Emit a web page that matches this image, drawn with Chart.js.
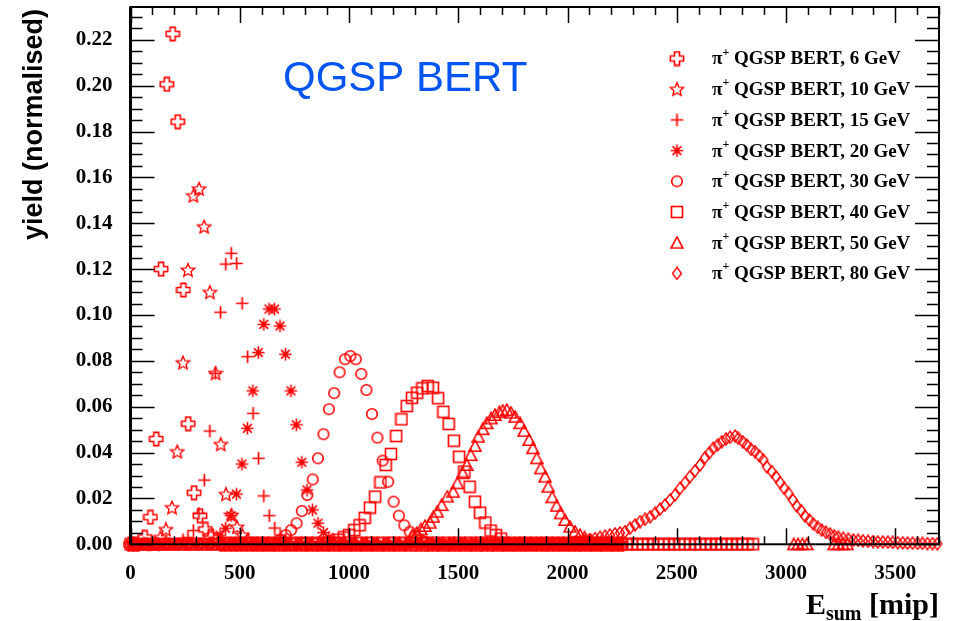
<!DOCTYPE html>
<html>
<head>
<meta charset="utf-8">
<script src="https://cdn.jsdelivr.net/npm/chart.js@4.4.1/dist/chart.umd.min.js"></script>
<style>
  html, body { margin: 0; padding: 0; background: #fff; }
  canvas { display: block; }
</style>
</head>
<body>
<canvas id="c" width="956" height="621"></canvas>
<script>
// beam energies (GeV), one histogram each
const energies = [6, 10, 15, 20, 30, 40, 50, 80];

// tick labels
const xTicks = [0, 500, 1000, 1500, 2000, 2500, 3000, 3500];
const yTicks = [0, 0.02, 0.04, 0.06, 0.08, 0.10, 0.12, 0.14, 0.16, 0.18, 0.20, 0.22];

// filled bins: E_sum [mip] and normalised yield
const x6 = [65, 91, 118, 140, 166, 193, 216, 242, 264, 291, 318, 343, 368, 393];
const y6 = [0.003, 0.0118, 0.0459, 0.120, 0.2006, 0.2226, 0.1843, 0.1109, 0.0526, 0.0225, 0.0125, 0.0065, 0.0035, 0.002];

const x10 = [137, 162, 190, 214, 240, 263, 288, 314, 337, 363, 389, 413, 437, 462, 487, 512, 537];
const y10 = [0.003, 0.0065, 0.016, 0.0404, 0.0792, 0.1196, 0.152, 0.155, 0.1385, 0.1099, 0.0746, 0.0436, 0.0218, 0.0128, 0.0075, 0.004, 0.002];

const x15 = [240, 263, 288, 313, 338, 363, 388, 412, 436, 461, 486, 511, 536, 561, 586, 610, 635, 660, 685, 710];
const y15 = [0.002, 0.003, 0.006, 0.0135, 0.028, 0.0494, 0.0746, 0.1012, 0.1222, 0.1269, 0.1225, 0.1051, 0.0818, 0.0571, 0.0375, 0.0211, 0.0125, 0.0071, 0.004, 0.002];

const x20 = [410, 435, 460, 485, 510, 535, 560, 585, 610, 634, 659, 684, 709, 734, 759, 784, 808, 833, 858, 883, 908, 932];
const y20 = [0.004, 0.007, 0.0125, 0.0219, 0.035, 0.0506, 0.0669, 0.0836, 0.0959, 0.1026, 0.1026, 0.0952, 0.0829, 0.0669, 0.0521, 0.0358, 0.0237, 0.015, 0.0092, 0.0051, 0.003, 0.0015];

const x30 = [686, 710, 735, 760, 784, 809, 834, 858, 883, 908, 932, 957, 982, 1006, 1031, 1056, 1080, 1105, 1130, 1154, 1179, 1204, 1228, 1253, 1278, 1302, 1327, 1352];
const y30 = [0.002, 0.004, 0.0062, 0.0092, 0.0145, 0.0215, 0.0283, 0.0375, 0.048, 0.0589, 0.0659, 0.075, 0.0807, 0.0821, 0.0807, 0.0743, 0.0673, 0.0568, 0.0465, 0.0365, 0.0273, 0.0186, 0.0125, 0.0083, 0.0055, 0.0035, 0.002, 0.001];

const x40 = [952, 976, 1000, 1024, 1048, 1072, 1096, 1120, 1144, 1168, 1192, 1216, 1240, 1264, 1288, 1312, 1336, 1360, 1384, 1408, 1432, 1456, 1480, 1504, 1528, 1552, 1576, 1600, 1624, 1648, 1672, 1696];
const y40 = [0.002, 0.003, 0.004, 0.0062, 0.0083, 0.0115, 0.016, 0.0208, 0.027, 0.0346, 0.0394, 0.0472, 0.0545, 0.0603, 0.0639, 0.0661, 0.068, 0.069, 0.0683, 0.0637, 0.0578, 0.0525, 0.0452, 0.0382, 0.0317, 0.0251, 0.0186, 0.0138, 0.0095, 0.006, 0.004, 0.0025];

const x50 = [1290, 1310, 1329, 1348, 1371, 1386, 1404, 1424, 1450, 1477, 1496, 1520, 1539, 1557, 1577, 1592, 1612, 1630, 1650, 1668, 1688, 1703, 1722, 1741, 1760, 1783, 1801, 1824, 1841, 1859, 1877, 1897, 1912, 1930, 1950, 1968, 1988, 2011, 2034, 2057, 2078, 2100];
const y50 = [0.004, 0.005, 0.0065, 0.008, 0.0094, 0.012, 0.0142, 0.0171, 0.0208, 0.0229, 0.0266, 0.031, 0.0346, 0.0389, 0.0429, 0.0469, 0.0502, 0.0528, 0.0549, 0.0564, 0.0576, 0.0583, 0.0586, 0.0574, 0.0556, 0.0528, 0.0495, 0.0455, 0.0419, 0.0375, 0.0331, 0.0295, 0.0251, 0.0205, 0.0168, 0.0135, 0.0106, 0.0077, 0.0055, 0.0041, 0.003, 0.002];

const x80 = [2036, 2058, 2081, 2104, 2126, 2149, 2172, 2194, 2217, 2240, 2263, 2286, 2309, 2332, 2355, 2378, 2400, 2423, 2446, 2469, 2492, 2515, 2538, 2560, 2583, 2606, 2629, 2649, 2667, 2687, 2706, 2725, 2744, 2767, 2782, 2802, 2820, 2840, 2858, 2878, 2896, 2912, 2935, 2954, 2973, 2992, 3011, 3031, 3049, 3069, 3087, 3107, 3125, 3145, 3163, 3183, 3202, 3221, 3239, 3262, 3285, 3308, 3330, 3352, 3375, 3398, 3420, 3443, 3466, 3488, 3511, 3534, 3556, 3579, 3602, 3624, 3647, 3670, 3692];
const y80 = [0.0008, 0.001, 0.0015, 0.002, 0.0025, 0.003, 0.0035, 0.004, 0.0045, 0.005, 0.0055, 0.007, 0.0084, 0.0099, 0.0109, 0.012, 0.0135, 0.0153, 0.0171, 0.0193, 0.0215, 0.0244, 0.0269, 0.0295, 0.032, 0.0346, 0.0378, 0.0399, 0.0419, 0.0433, 0.0447, 0.0459, 0.0467, 0.0472, 0.0462, 0.0447, 0.0433, 0.0414, 0.0404, 0.0385, 0.0368, 0.0338, 0.0317, 0.0295, 0.0269, 0.0244, 0.0222, 0.0193, 0.0167, 0.0147, 0.0123, 0.0106, 0.0089, 0.0074, 0.0062, 0.0052, 0.0044, 0.0036, 0.0031, 0.0026, 0.0022, 0.0019, 0.0017, 0.0015, 0.0013, 0.0012, 0.001, 0.001, 0.0009, 0.0008, 0.0007, 0.0006, 0.0005, 0.0005, 0.0004, 0.0004, 0.0003, 0.0003, 0.0002];

// empty bins (yield 0) that make the band along the x axis
const z6 = [0, 25, 420, 445, 470, 495, 520, 545, 570, 595, 620, 645, 670, 695, 720, 745, 770, 795, 820, 845, 870, 895, 920, 945, 970, 995,
  1020, 1045, 1070, 1095, 1120, 1145, 1170, 1195, 1220, 1245, 1270, 1295, 1320, 1345, 1370, 1395, 1420, 1445, 1470, 1495, 1520, 1545, 1570, 1595,
  1620, 1645, 1670, 1695, 1720, 1745, 1770, 1795, 1820, 1845, 1870, 1895, 1920, 1945, 1970, 1995, 2020, 2045, 2070, 2095, 2120, 2145, 2170, 2195, 2220, 2245];
const z10 = [10, 60, 110, 580, 630, 680, 730, 780, 830, 880, 930, 980, 1030, 1080, 1130, 1180, 1230, 1280, 1330, 1380, 1430, 1480, 1530, 1580, 1630, 1680, 1730, 1780, 1830, 1880, 1930, 1980, 2030, 2080, 2130, 2180, 2230];
const z15 = [35, 85, 135, 185, 760, 810, 860, 910, 960, 1010, 1060, 1110, 1160, 1210, 1260, 1310, 1360, 1410, 1460, 1510, 1560, 1610, 1660, 1710, 1760, 1810, 1860, 1910, 1960, 2010, 2060, 2110, 2160, 2210];
const z20 = [0, 50, 100, 150, 200, 250, 300, 350, 975, 1025, 1075, 1125, 1175, 1225, 1275, 1325, 1375, 1425, 1475, 1525, 1575, 1625, 1675, 1725, 1775, 1825, 1875, 1925, 1975, 2025, 2075, 2125, 2175, 2225];
const z30 = [12, 37, 62, 87, 112, 137, 162, 187, 212, 237, 262, 287, 312, 337, 362, 387, 412, 437, 462, 487, 512, 537, 562, 587, 612, 637, 662,
  1380, 1405, 1430, 1455, 1480, 1505, 1530, 1555, 1580, 1605, 1630, 1655, 1680, 1705, 1730, 1755, 1780, 1805, 1830, 1855, 1880, 1905, 1930, 1955,
  1980, 2005, 2030, 2055, 2080, 2105, 2130, 2155, 2180, 2205, 2230];
const z40 = [0, 50, 100, 150, 200, 250, 300, 350, 400, 450, 500, 550, 600, 650, 700, 750, 800, 850, 900,
  1720, 1744, 1768, 1792, 1816, 1840, 1864, 1888, 1912, 1936, 1960, 1984, 2008, 2032, 2056, 2080, 2104, 2128, 2152, 2176, 2200, 2224, 2248, 2272, 2296, 2320, 2344, 2368, 2392, 2416, 2440, 2464, 2488, 2512, 2536, 2560, 2584, 2608, 2632, 2656, 2680, 2704, 2728, 2752, 2776, 2800, 2824, 2848];
const z50 = [25, 75, 125, 175, 225, 275, 325, 375, 425, 475, 525, 575, 625, 675, 725, 775, 825, 875, 925, 975, 1025, 1075, 1125, 1175, 1225,
  2125, 2150, 2175, 2200, 2225, 2250, 3035, 3055, 3075, 3095, 3220, 3240, 3260, 3280];
const z80 = [15, 65, 115, 165, 215, 265, 315, 365, 415, 465, 515, 565, 615, 665, 715, 765, 815, 865, 915, 965, 1015, 1065, 1115, 1165, 1215, 1265, 1315, 1365, 1415, 1465, 1515, 1565, 1615, 1665, 1715, 1765, 1815, 1865, 1915, 1965, 2015];

const RED = 'rgb(255,0,0)';

// ROOT-like open markers
function mark(w, h, draw) {
  const c = document.createElement('canvas');
  c.width = w; c.height = h;
  const g = c.getContext('2d');
  g.strokeStyle = RED; g.fillStyle = RED; g.lineWidth = 1.6;
  draw(g);
  return c;
}
const openCross = mark(16, 16, g => {
  const c = 8, a = 2.5, L = 6.6;
  const p = [[-a,-L],[a,-L],[a,-a],[L,-a],[L,a],[a,a],[a,L],[-a,L],[-a,a],[-L,a],[-L,-a],[-a,-a]];
  g.beginPath();
  p.forEach(([u, v], k) => k ? g.lineTo(c + u, c + v) : g.moveTo(c + u, c + v));
  g.closePath(); g.stroke();
});
const openStar = mark(16, 16, g => {
  g.lineWidth = 1.4;
  g.beginPath();
  for (let k = 0; k < 10; k++) {
    const r = k % 2 ? 3.2 : 7.0, t = -Math.PI / 2 + k * Math.PI / 5;
    const px = 8 + r * Math.cos(t), py = 8.5 + r * Math.sin(t);
    k ? g.lineTo(px, py) : g.moveTo(px, py);
  }
  g.closePath(); g.stroke();
});
const thinCross = mark(15, 15, g => {
  g.lineWidth = 1.7;
  g.beginPath(); g.moveTo(7.5, 1.3); g.lineTo(7.5, 13.7); g.moveTo(1.3, 7.5); g.lineTo(13.7, 7.5); g.stroke();
});
const aster = mark(15, 15, g => {
  g.lineWidth = 1.6;
  g.beginPath();
  for (let k = 0; k < 4; k++) {
    const t = k * Math.PI / 4;
    g.moveTo(7.5 - 6.2 * Math.cos(t), 7.5 - 6.2 * Math.sin(t));
    g.lineTo(7.5 + 6.2 * Math.cos(t), 7.5 + 6.2 * Math.sin(t));
  }
  g.stroke();
  g.beginPath(); g.arc(7.5, 7.5, 2.2, 0, 2 * Math.PI); g.fill();
});
const openCircle = mark(14, 14, g => { g.beginPath(); g.arc(7, 7, 5.3, 0, 2 * Math.PI); g.stroke(); });
const openSquare = mark(14, 14, g => { g.strokeRect(1.5, 1.5, 11, 11); });
const openTri = mark(14, 14, g => {
  g.beginPath(); g.moveTo(7, 1.2); g.lineTo(13, 12.3); g.lineTo(1, 12.3); g.closePath(); g.stroke();
});
const openDiamond = mark(12, 14, g => {
  g.lineWidth = 1.4;
  g.beginPath(); g.moveTo(6, 1); g.lineTo(10.5, 7); g.lineTo(6, 13); g.lineTo(1.5, 7); g.closePath(); g.stroke();
});

const series = [
  [x6, y6, z6, openCross],
  [x10, y10, z10, openStar],
  [x15, y15, z15, thinCross],
  [x20, y20, z20, aster],
  [x30, y30, z30, openCircle],
  [x40, y40, z40, openSquare],
  [x50, y50, z50, openTri],
  [x80, y80, z80, openDiamond]
];

const datasets = series.map(([xs, ys, zs, style], i) => ({
  label: '\u03c0+ QGSP BERT, ' + energies[i] + ' GeV',
  data: xs.map((x, k) => ({ x, y: ys[k] })).concat(zs.map(x => ({ x, y: 0 }))),
  showLine: false,
  pointStyle: style,
  pointRadius: 6,
  borderColor: RED,
  backgroundColor: 'rgba(0,0,0,0)',
  clip: false
}));

const serif = '"Liberation Serif", "Times New Roman", serif';
const sans = '"Liberation Sans", Arial, sans-serif';

// frame with inward ticks on all four sides
const frame = {
  id: 'frame',
  afterDatasetsDraw(chart) {
    const { ctx, chartArea: a, scales: { x, y } } = chart;
    ctx.save();
    ctx.strokeStyle = '#000';
    ctx.lineWidth = 1.5;
    ctx.beginPath();
    for (let v = 0; v <= 3700; v += 100) {
      const px = Math.round(x.getPixelForValue(v)) + 0.5;
      const len = v % 500 === 0 ? 16 : 8;
      ctx.moveTo(px, a.bottom); ctx.lineTo(px, a.bottom - len);
      ctx.moveTo(px, a.top); ctx.lineTo(px, a.top + len);
    }
    for (let k = 0; k <= 46; k++) {
      const py = Math.round(y.getPixelForValue(k * 0.005)) + 0.5;
      if (py < a.top) break;
      const len = k % 4 === 0 ? 24 : 12;
      ctx.moveTo(a.left, py); ctx.lineTo(a.left + len, py);
      ctx.moveTo(a.right, py); ctx.lineTo(a.right - len, py);
    }
    ctx.stroke();
    ctx.lineWidth = 2;
    ctx.strokeRect(a.left, a.top, a.right - a.left, a.bottom - a.top);
    ctx.beginPath(); ctx.lineWidth = 3;
    ctx.moveTo(a.left, a.top); ctx.lineTo(a.left, a.bottom); ctx.stroke();
    ctx.restore();
  }
};

// legend in the upper right corner
const legendBox = {
  id: 'legendBox',
  afterDatasetsDraw(chart) {
    const ctx = chart.ctx;
    ctx.save();
    ctx.fillStyle = '#000';
    ctx.textBaseline = 'middle';
    chart.data.datasets.forEach((ds, i) => {
      const cy = 58.5 + i * 30.7;
      const st = ds.pointStyle;
      ctx.drawImage(st, 677 - st.width / 2, cy - st.height / 2);
      let tx = 712;
      ctx.font = 'bold 19px ' + serif;
      ctx.fillText('\u03c0', tx, cy + 1);
      tx += ctx.measureText('\u03c0').width;
      ctx.font = 'bold 12px ' + serif;
      ctx.fillText('+', tx, cy - 6);
      tx += ctx.measureText('+').width;
      ctx.font = 'bold 19px ' + serif;
      ctx.fillText(' QGSP BERT, ' + energies[i] + ' GeV', tx, cy + 1);
    });
    ctx.restore();
  }
};

// axis titles and the model name
const texts = {
  id: 'texts',
  afterDatasetsDraw(chart) {
    const ctx = chart.ctx;
    ctx.save();
    ctx.fillStyle = 'rgb(0,85,240)';
    ctx.font = '42px ' + sans;
    ctx.textBaseline = 'alphabetic';
    ctx.textAlign = 'left';
    ctx.fillText('QGSP BERT', 283, 91);

    ctx.fillStyle = '#000';
    ctx.save();
    ctx.translate(42, 9);
    ctx.rotate(-Math.PI / 2);
    ctx.textAlign = 'right';
    ctx.font = 'bold 27px ' + sans;
    ctx.fillText('yield (normalised)', 0, 0);
    ctx.restore();

    ctx.textAlign = 'right';
    let rx = 939;
    ctx.font = 'bold 30px ' + serif;
    ctx.fillText(' [mip]', rx, 614);
    rx -= ctx.measureText(' [mip]').width;
    ctx.font = 'bold 20px ' + serif;
    ctx.fillText('sum', rx, 620);
    rx -= ctx.measureText('sum').width;
    ctx.font = 'bold 30px ' + serif;
    ctx.fillText('E', rx, 614);
    ctx.restore();
  }
};

const noPad = s => { s.paddingTop = 0; s.paddingBottom = 0; s.paddingLeft = 0; s.paddingRight = 0; };

new Chart(document.getElementById('c'), {
  type: 'scatter',
  data: { datasets },
  options: {
    responsive: false,
    animation: false,
    devicePixelRatio: 1,
    layout: { padding: { top: 7, right: 17, left: 0, bottom: 0 } },
    plugins: { legend: { display: false }, tooltip: { enabled: false } },
    scales: {
      x: {
        type: 'linear', min: 0, max: 3700,
        grid: { display: false }, border: { display: false },
        ticks: {
          padding: 9, maxRotation: 0, autoSkip: false,
          color: '#000', font: { family: serif, weight: 'bold', size: 21 },
          callback: v => String(v)
        },
        afterBuildTicks: s => { s.ticks = xTicks.map(v => ({ value: v })); },
        afterFit: s => { s.height = 76.7; noPad(s); }
      },
      y: {
        type: 'linear', min: 0, max: 0.2343,
        grid: { display: false }, border: { display: false },
        ticks: {
          padding: 10, autoSkip: false,
          color: '#000', font: { family: serif, weight: 'bold', size: 21 },
          callback: v => v.toFixed(2)
        },
        afterBuildTicks: s => { s.ticks = yTicks.map(v => ({ value: v })); },
        afterFit: s => { s.width = 130.5; noPad(s); }
      }
    }
  },
  plugins: [frame, legendBox, texts]
});
</script>
</body>
</html>
